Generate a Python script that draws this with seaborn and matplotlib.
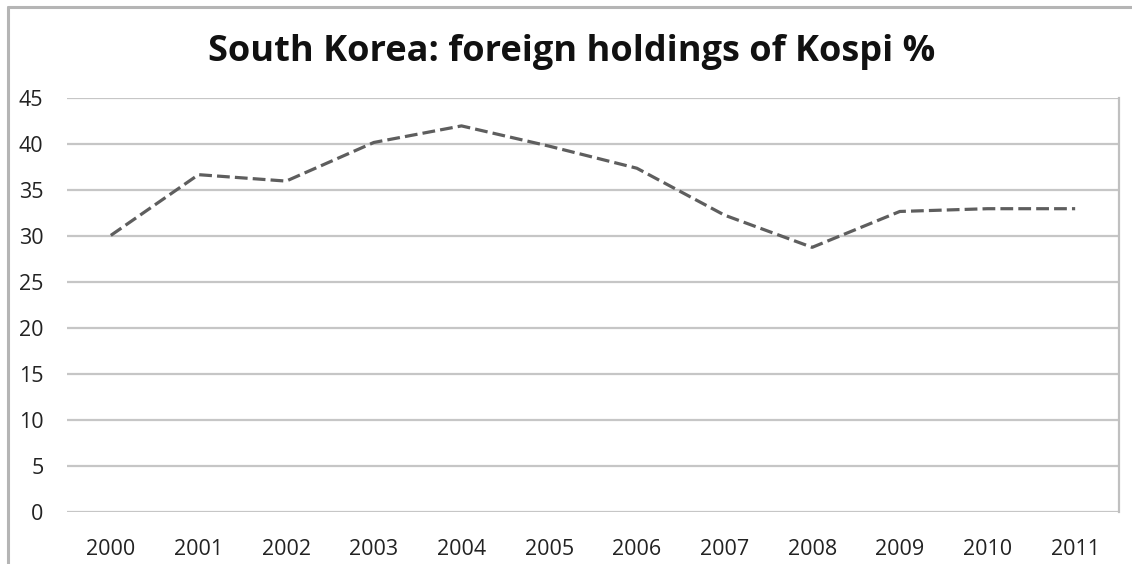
import matplotlib
matplotlib.use("Agg")
import matplotlib.pyplot as plt
import seaborn as sns
import pandas as pd
from matplotlib.lines import Line2D

# Dados do gráfico
years = ["2000", "2001", "2002", "2003", "2004", "2005",
         "2006", "2007", "2008", "2009", "2010", "2011"]
foreign_pct = [30.1, 36.7, 36.0, 40.2, 42.0, 39.8,
               37.4, 32.3, 28.8, 32.7, 33.0, 33.0]
y_ticks = [0, 5, 10, 15, 20, 25, 30, 35, 40, 45]
title = "South Korea: foreign holdings of Kospi %"

df = pd.DataFrame({"year": years, "pct": foreign_pct})

sns.set_theme(style="white")
plt.rcParams["font.family"] = ["Open Sans", "DejaVu Sans"]

fig = plt.figure(figsize=(11.32, 5.64), dpi=100)
ax = fig.add_axes([67 / 1132, 1 - 512.3 / 564, (1119 - 67) / 1132, (512.3 - 98.3) / 564])

# Linhas de grade
for y in y_ticks:
    ax.axhline(y, color="#c6c6c6", linewidth=1.6, zorder=1)

sns.lineplot(data=df, x="year", y="pct", ax=ax, color="#5e5e5e",
             linewidth=2.3, linestyle=(0, (4, 1.6)), zorder=3, sort=False)

ax.set_xlim(-0.5, len(years) - 0.5)
ax.set_ylim(0, 45)
ax.set_yticks(y_ticks)
ax.set_xticks(range(len(years)))
ax.set_xticklabels(years)
ax.set_xlabel("")
ax.set_ylabel("")
ax.tick_params(axis="y", length=0, pad=17, labelsize=15.5, labelcolor="#222222")
ax.tick_params(axis="x", length=0, pad=19, labelsize=15.5, labelcolor="#222222")

for side in ["left", "top", "bottom"]:
    ax.spines[side].set_visible(False)
ax.spines["right"].set_color("#c0c0c0")
ax.spines["right"].set_linewidth(1.6)

# Título
fig.text(572 / 1132, 1 - 52 / 564, title, ha="center", va="center",
         fontsize=26, fontweight="bold", color="#111111")

# Moldura externa do gráfico
fig.add_artist(Line2D([8 / 1132, 8 / 1132], [0, 1 - 7 / 564],
                      transform=fig.transFigure, color="#b5b5b5", linewidth=2.2))
fig.add_artist(Line2D([8 / 1132, 1], [1 - 7 / 564, 1 - 7 / 564],
                      transform=fig.transFigure, color="#b5b5b5", linewidth=2.2))

fig.savefig("out.png", dpi=100)
